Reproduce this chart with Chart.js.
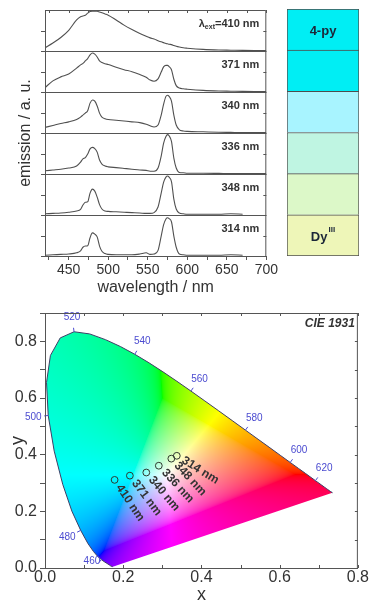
<!DOCTYPE html>
<html>
<head>
<meta charset="utf-8">
<script src="https://cdn.jsdelivr.net/npm/chart.js@4.4.1/dist/chart.umd.min.js"></script>
<style>
  body { margin: 0; background: #fff; width: 369px; height: 603px; overflow: hidden; }
  canvas { position: absolute; }
  #spectra { left: 0; top: 0; }
  #swatch { left: 280px; top: 0; }
  #cie { left: 0; top: 300px; }
</style>
</head>
<body>
<canvas id="spectra" width="280" height="300"></canvas>
<canvas id="swatch" width="89" height="300"></canvas>
<canvas id="cie" width="369" height="303"></canvas>
<script>
// excitation wavelengths (nm), top panel first
const excitation = [410, 371, 340, 336, 348, 314];
// emission colour of each sample
const emColors = ["#00eef4", "#00eef4", "#a8f4ff", "#bff5e2", "#dcf8c8", "#eef6b8"];
const swatchText = ["4-py", "", "", "", "", "Dy"];
const swatchSup = ["", "", "", "", "", "III"];

// emission spectra, normalised per panel
const wl = [420, 430, 440, 450, 460, 465, 468, 471, 474, 477, 480, 483, 486, 489, 492, 496, 500, 510, 520, 530,
            540, 548, 553, 558, 563, 567, 570, 573, 575, 577, 580, 583, 586, 590, 595, 600, 620, 640, 655, 670, 685, 700];
const em410 = [.08, .2, .34, .52, .78, .86, .88, .9, .95, .99, 1, 1, 1, .98, .96, .93, .9, .78, .65, .54,
               .44, .37, .33, .3, .26, .23, .21, .19, .18, .17, .16, .14, .12, .1, .08, .07, .04, .025, .02, .015, .012, .01];
const em371 = [.11, .28, .38, .45, .6, .68, .72, .78, .84, .93, .98, .95, .88, .78, .74, .71, .69, .62, .56, .51,
               .44, .37, .3, .27, .33, .5, .63, .67, .67, .64, .56, .32, .16, .1, .08, .07, .04, .025, .02, .015, .012, .01];
const em340 = [.14, .19, .24, .28, .34, .4, .45, .5, .56, .75, .83, .8, .68, .5, .4, .36, .34, .32, .3, .28,
               .26, .22, .18, .15, .2, .45, .72, .92, .95, .92, .8, .45, .2, .08, .05, .04, .03, .02, .015, .01, .01, .01];
const em336 = [.08, .1, .12, .15, .2, .3, .38, .41, .5, .63, .67, .64, .55, .35, .25, .2, .18, .16, .14, .12,
               .1, .09, .07, .07, .15, .45, .77, .94, .99, .96, .82, .4, .15, .04, .03, .02, .02, .015, .01, .01, .01, .01];
const em348 = [.03, .04, .05, .07, .1, .14, .25, .32, .33, .55, .65, .6, .45, .26, .15, .1, .09, .08, .07, .06,
               .05, .04, .04, .06, .2, .55, .82, .95, .98, .95, .84, .4, .15, .05, .03, .02, .02, .02, .03, .02, null, null];
const em314 = [.02, .03, .04, .05, .08, .13, .22, .25, .26, .46, .58, .55, .48, .25, .12, .06, .04, .03, .03, .03,
               .05, .08, .04, .05, .14, .5, .78, .93, .96, .94, .86, .5, .22, .05, .03, .02, .02, .02, .03, .02, null, null];
const emission = [em410, em371, em340, em336, em348, em314];
const wlLabels = [450, 500, 550, 600, 650, 700];

// CIE 1931 spectral locus
const locusNm = [400, 405, 410, 415, 420, 425, 430, 435, 440, 445, 450, 455, 460, 465, 470, 475, 480, 485, 490, 495,
                 500, 505, 510, 515, 520, 525, 530, 535, 540, 545, 550, 555, 560, 565, 570, 575, 580, 585, 590, 595,
                 600, 605, 610, 615, 620, 625, 630, 635, 640, 645, 650, 655, 660, 665, 670, 680, 690, 700];
const locusX = [.1733, .1730, .1726, .1721, .1714, .1703, .1689, .1669, .1644, .1611, .1566, .1510, .1440, .1355, .1241, .1096, .0913, .0687, .0454, .0235,
                .0082, .0039, .0139, .0389, .0743, .1142, .1547, .1929, .2296, .2658, .3016, .3373, .3731, .4087, .4441, .4788, .5125, .5448, .5752, .6029,
                .6270, .6482, .6658, .6801, .6915, .7006, .7079, .7140, .7190, .7230, .7260, .7283, .7300, .7311, .7320, .7334, .7344, .7347];
const locusY = [.0048, .0048, .0048, .0048, .0051, .0058, .0069, .0086, .0109, .0138, .0177, .0227, .0297, .0399, .0578, .0868, .1327, .2007, .2950, .4127,
                .5384, .6548, .7502, .8120, .8338, .8262, .8059, .7816, .7543, .7243, .6923, .6589, .6245, .5896, .5547, .5202, .4866, .4544, .4242, .3965,
                .3725, .3514, .3340, .3197, .3083, .2993, .2920, .2859, .2809, .2770, .2740, .2717, .2700, .2689, .2680, .2666, .2656, .2653];
const locusMarks = [460, 480, 500, 520, 540, 560, 580, 600, 620];

// chromaticity of each emission, same order as excitation
const cieX = [0.178, 0.217, 0.259, 0.291, 0.323, 0.337];
const cieY = [0.311, 0.326, 0.337, 0.361, 0.386, 0.396];
const cieLabels = [0.0, 0.2, 0.4, 0.6, 0.8];
// slant of each point label, degrees
const labelTilt = [56, 53, 50, 47, 47, 32];

const FONT = "'Liberation Sans', Arial, sans-serif";
const TXT = "#333";
const AX = "#555";
Chart.defaults.font.family = FONT;
Chart.defaults.color = TXT;
Chart.defaults.animation = false;
Chart.defaults.plugins.legend.display = false;
Chart.defaults.plugins.tooltip.enabled = false;

// box around the plot area, inward ticks on top/right, panel separators
const frame = {
  id: "frame",
  afterDraw(chart, args, opts) {
    const { ctx, chartArea: a } = chart;
    const xs = chart.scales.x;
    ctx.save();
    ctx.strokeStyle = AX;
    ctx.lineWidth = 1;
    ctx.beginPath();
    ctx.rect(a.left + 0.5, a.top + 0.5, a.width - 1, a.height);
    xs.ticks.forEach(t => {
      const px = Math.round(xs.getPixelForValue(t.value)) + 0.5;
      ctx.moveTo(px, a.top);
      ctx.lineTo(px, a.top + 3);
      if (opts.bottomIn) {
        ctx.moveTo(px, a.bottom);
        ctx.lineTo(px, a.bottom - 3);
      }
    });
    (opts.yIds || []).forEach((id, i) => {
      const s = chart.scales[id];
      s.ticks.forEach(t => {
        const py = Math.round(s.getPixelForValue(t.value)) + 0.5;
        ctx.moveTo(a.right, py);
        ctx.lineTo(a.right - 3, py);
      });
      if (opts.separators && i > 0) {
        const py = Math.round(s.top) + 0.5;
        ctx.moveTo(a.left, py);
        ctx.lineTo(a.right, py);
      }
    });
    ctx.stroke();
    ctx.restore();
  }
};

// excitation labels in each panel and the shared y title
const panelText = {
  id: "panelText",
  afterDatasetsDraw(chart) {
    const { ctx, chartArea: a } = chart;
    ctx.save();
    ctx.fillStyle = TXT;
    ctx.textBaseline = "middle";
    ctx.textAlign = "right";
    excitation.forEach((ex, i) => {
      const s = chart.scales["y" + ex];
      const y = s.top + 14;
      const right = a.right - 7;
      ctx.font = "bold 11px " + FONT;
      if (i === 0) {
        const rest = "=" + ex + " nm";
        ctx.fillText(rest, right, y);
        let x = right - ctx.measureText(rest).width;
        ctx.font = "bold 7px " + FONT;
        ctx.fillText("ext", x, y + 3);
        x -= ctx.measureText("ext").width;
        ctx.font = "bold 11px " + FONT;
        ctx.fillText("\u03bb", x, y);
      } else {
        ctx.fillText(ex + " nm", right, y);
      }
    });
    ctx.translate(26, (a.top + a.bottom) / 2);
    ctx.rotate(-Math.PI / 2);
    ctx.textAlign = "center";
    ctx.font = "16px " + FONT;
    ctx.fillText("emission / a. u.", 0, 0);
    ctx.restore();
  }
};

const yIds = excitation.map(ex => "y" + ex);
const spectraScales = {
  x: {
    type: "linear", min: 420, max: 700,
    afterBuildTicks: s => {
      s.ticks = [];
      for (let v = 425; v <= 700; v += 25) s.ticks.push({ value: v });
    },
    ticks: { callback: v => (wlLabels.includes(v) ? v : ""), font: { size: 14 }, padding: 2, maxRotation: 0, autoSkip: false },
    grid: { drawOnChartArea: false, tickLength: 4, color: AX },
    border: { color: AX },
    title: { display: true, text: "wavelength / nm", font: { size: 16 }, padding: { top: 0, bottom: 3 } },
    afterFit: s => { s.height = 44; }
  }
};
// stacked axes are laid out last-defined on top, so add the bottom panel first
[...excitation].reverse().forEach(ex => {
  spectraScales["y" + ex] = {
    type: "linear", position: "left", stack: "em", stackWeight: 1, offset: false,
    min: 0, max: 1.03,
    afterBuildTicks: s => { s.ticks = [{ value: 0 }, { value: 0.5 }]; },
    ticks: { display: false },
    grid: { drawOnChartArea: false, tickLength: 4, color: AX },
    border: { color: AX },
    afterFit: s => { s.width = 45; }
  };
});

new Chart(document.getElementById("spectra"), {
  type: "line",
  data: {
    datasets: excitation.map((ex, i) => ({
      data: wl.map((w, j) => ({ x: w, y: emission[i][j] })),
      yAxisID: "y" + ex,
      borderColor: "#505050",
      borderWidth: 1.1,
      pointRadius: 0,
      cubicInterpolationMode: "monotone",
      fill: false
    }))
  },
  options: {
    responsive: false,
    layout: { padding: { top: 10, right: 10 } },
    scales: spectraScales,
    plugins: { frame: { yIds: yIds, separators: true } }
  },
  plugins: [frame, panelText]
});

// colour swatches, one stacked cell per sample (bottom cell first)
const swatchLabel = {
  id: "swatchLabel",
  afterDatasetsDraw(chart) {
    const { ctx } = chart;
    ctx.save();
    ctx.fillStyle = "#1c2738";
    ctx.textBaseline = "middle";
    chart.data.datasets.forEach((ds, di) => {
      const i = ds.sample;
      if (!swatchText[i]) return;
      const el = chart.getDatasetMeta(di).data[0];
      const cy = (el.y + el.base) / 2;
      ctx.font = "bold 13px " + FONT;
      const w1 = ctx.measureText(swatchText[i]).width;
      ctx.font = "bold 8px " + FONT;
      const w2 = swatchSup[i] ? ctx.measureText(swatchSup[i]).width + 1 : 0;
      const x0 = el.x - (w1 + w2) / 2;
      ctx.textAlign = "left";
      ctx.font = "bold 13px " + FONT;
      ctx.fillText(swatchText[i], x0, cy + 2);
      if (w2) {
        ctx.font = "bold 8px " + FONT;
        ctx.fillText(swatchSup[i], x0 + w1 + 1, cy - 6);
      }
    });
    ctx.restore();
  }
};

new Chart(document.getElementById("swatch"), {
  type: "bar",
  data: {
    labels: [""],
    datasets: excitation.map((ex, i) => ({
      sample: i,
      data: [1],
      backgroundColor: emColors[i],
      borderColor: "#4d4d4d",
      borderWidth: { top: 1, left: 1, right: 1, bottom: i === excitation.length - 1 ? 1 : 0 },
      borderSkipped: false,
      barPercentage: 1,
      categoryPercentage: 1
    })).reverse()
  },
  options: {
    responsive: false,
    layout: { padding: { left: 7, right: 10, top: 9, bottom: 44 } },
    scales: {
      x: { display: false, stacked: true },
      y: { display: false, stacked: true, min: 0, max: 6 }
    }
  },
  plugins: [swatchLabel]
});

// xy chromaticity -> sRGB; out-of-gamut colours are desaturated by adding white
function chromaToRgb(cx, cy) {
  const X = cx / cy, Y = 1, Z = (1 - cx - cy) / cy;
  let r = 3.2406 * X - 1.5372 * Y - 0.4986 * Z;
  let g = -0.9689 * X + 1.8758 * Y + 0.0415 * Z;
  let b = 0.0557 * X - 0.2040 * Y + 1.0570 * Z;
  const w = -Math.min(0, r, g, b);
  r += w; g += w; b += w;
  const m = Math.max(r, g, b) || 1;
  return [r / m, g / m, b / m].map(c =>
    Math.round(255 * (c <= 0.0031308 ? 12.92 * c : 1.055 * Math.pow(c, 1 / 2.4) - 0.055)));
}

const gamutFill = {
  id: "gamutFill",
  beforeDatasetsDraw(chart) {
    const { ctx, chartArea: a, scales: { x, y } } = chart;
    const w = Math.ceil(a.width), h = Math.ceil(a.height);
    const off = document.createElement("canvas");
    off.width = w;
    off.height = h;
    const octx = off.getContext("2d");
    const img = octx.createImageData(w, h);
    for (let j = 0; j < h; j++) {
      const cy = Math.max(0.002, y.getValueForPixel(a.top + j + 0.5));
      for (let i = 0; i < w; i++) {
        const cx = x.getValueForPixel(a.left + i + 0.5);
        const c = chromaToRgb(cx, cy);
        const k = (j * w + i) * 4;
        img.data[k] = c[0];
        img.data[k + 1] = c[1];
        img.data[k + 2] = c[2];
        img.data[k + 3] = 255;
      }
    }
    octx.putImageData(img, 0, 0);
    const path = new Path2D();
    locusNm.forEach((nm, i) => {
      const px = x.getPixelForValue(locusX[i]), py = y.getPixelForValue(locusY[i]);
      if (i) path.lineTo(px, py); else path.moveTo(px, py);
    });
    path.closePath();
    ctx.save();
    ctx.clip(path);
    ctx.drawImage(off, a.left, a.top);
    ctx.restore();
  }
};

// wavelength marks along the locus, point labels, titles
const cieText = {
  id: "cieText",
  afterDatasetsDraw(chart) {
    const { ctx, chartArea: a, scales: { x, y } } = chart;
    const wx = x.getPixelForValue(0.33), wy = y.getPixelForValue(0.33);
    ctx.save();
    ctx.strokeStyle = "#4b4bd0";
    ctx.fillStyle = "#4b4bd0";
    ctx.font = "10px " + FONT;
    ctx.textAlign = "center";
    ctx.textBaseline = "middle";
    locusMarks.forEach(nm => {
      const i = locusNm.indexOf(nm);
      const px = x.getPixelForValue(locusX[i]), py = y.getPixelForValue(locusY[i]);
      const tx = x.getPixelForValue(locusX[i + 1]) - x.getPixelForValue(locusX[i - 1]);
      const ty = y.getPixelForValue(locusY[i + 1]) - y.getPixelForValue(locusY[i - 1]);
      const len = Math.hypot(tx, ty);
      let nx = ty / len, ny = -tx / len;
      if (nx * (px - wx) + ny * (py - wy) < 0) { nx = -nx; ny = -ny; }
      ctx.beginPath();
      ctx.moveTo(px, py);
      ctx.lineTo(px + nx * 4, py + ny * 4);
      ctx.stroke();
      ctx.fillText(String(nm), px + nx * 15, Math.min(py + ny * 15, a.bottom - 7));
    });

    ctx.fillStyle = TXT;
    ctx.font = "bold 12px " + FONT;
    ctx.textAlign = "left";
    const meta = chart.getDatasetMeta(1);
    meta.data.forEach((pt, i) => {
      const ang = labelTilt[i] * Math.PI / 180;
      ctx.save();
      ctx.translate(pt.x + 7 * Math.cos(ang), pt.y + 7 * Math.sin(ang));
      ctx.rotate(ang);
      ctx.fillText(excitation[i] + " nm", 0, 0);
      ctx.restore();
    });

    ctx.font = "italic bold 12px " + FONT;
    ctx.textAlign = "right";
    ctx.fillText("CIE 1931", a.right - 3, a.top + 11);

    ctx.font = "18px " + FONT;
    ctx.textAlign = "center";
    ctx.fillText("x", (a.left + a.right) / 2, 295);
    ctx.translate(18, (a.top + a.bottom) / 2);
    ctx.rotate(-Math.PI / 2);
    ctx.fillText("y", 0, 0);
    ctx.restore();
  }
};

const tenths = (lo, hi) => s => {
  s.ticks = [];
  for (let k = lo; k <= hi; k++) s.ticks.push({ value: k / 10 });
};
const cieTick = v => (cieLabels.some(c => Math.abs(c - v) < 1e-6) ? v.toFixed(1) : "");

new Chart(document.getElementById("cie"), {
  type: "scatter",
  data: {
    datasets: [
      {
        data: locusNm.map((nm, i) => ({ x: locusX[i], y: locusY[i] })),
        showLine: true,
        borderColor: "#3e3e66",
        borderWidth: 1,
        pointRadius: 0
      },
      {
        data: cieX.map((v, i) => ({ x: v, y: cieY[i] })),
        pointRadius: 3.4,
        pointBorderColor: "#2f3a2f",
        pointBackgroundColor: "rgba(0,0,0,0)",
        pointBorderWidth: 1
      }
    ]
  },
  options: {
    responsive: false,
    layout: { padding: { top: 13, right: 10 } },
    scales: {
      x: {
        min: 0, max: 0.8,
        afterBuildTicks: tenths(0, 8),
        ticks: { callback: cieTick, font: { size: 16 }, padding: 0, maxRotation: 0, autoSkip: false },
        grid: { drawOnChartArea: false, drawTicks: false, color: AX },
        border: { color: AX },
        afterFit: s => { s.height = 35; }
      },
      y: {
        min: 0, max: 0.9,
        afterBuildTicks: tenths(0, 9),
        ticks: { callback: cieTick, font: { size: 16 }, padding: 3, autoSkip: false },
        grid: { drawOnChartArea: false, tickLength: 5, color: AX },
        border: { color: AX },
        afterFit: s => { s.width = 45; }
      }
    },
    plugins: { frame: { yIds: ["y"], bottomIn: true } }
  },
  plugins: [gamutFill, frame, cieText]
});
</script>
</body>
</html>
